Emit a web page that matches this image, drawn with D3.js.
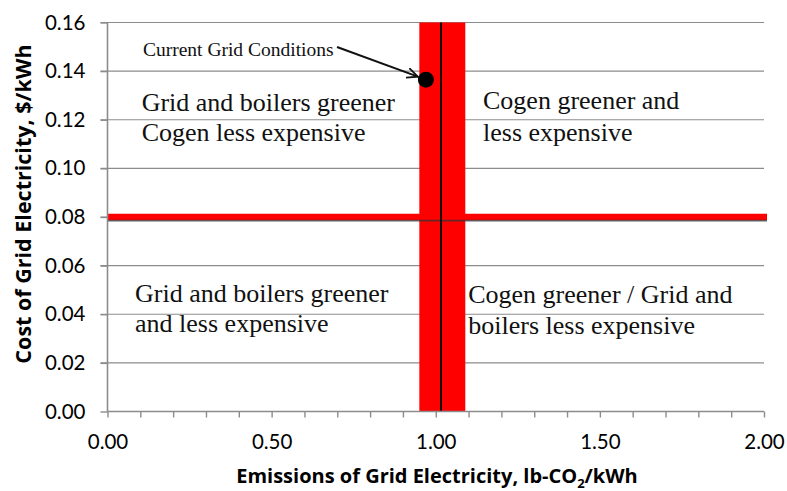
<!DOCTYPE html>
<html>
  <head>
    <meta charset="utf-8">
    <title>Cogen vs grid</title>
    <script src="https://cdnjs.cloudflare.com/ajax/libs/d3/7.8.5/d3.min.js"></script>
    <style>
      body { margin: 0; background: #fff; }
    </style>
  </head>
  <body>
    <script>
      // data
      var xTicks = [0, 0.5, 1.0, 1.5, 2.0];
      var xMinorTicks = d3.range(0, 2.0001, 0.1);
      var yTicks = [0, 0.02, 0.04, 0.06, 0.08, 0.10, 0.12, 0.14, 0.16];
      var emissionBand = [0.95, 1.09];      // red vertical band
      var emissionLine = [1.016];           // black vertical line
      var costLine = [0.08];                // red horizontal line
      var costRefLine = [0.0785];           // dark horizontal line
      var currentGrid = [{ x: 0.97, y: 0.1365 }];
      var quadrantLabels = [
        ["Grid and boilers greener", "Cogen less expensive"],
        ["Cogen greener and", "less expensive"],
        ["Grid and boilers greener", "and less expensive"],
        ["Cogen greener / Grid and", "boilers less expensive"]
      ];
      var calloutText = "Current Grid Conditions";

      var W = 787, H = 491;
      var m = { top: 22.5, right: 23, bottom: 79.5, left: 107.5 };

      var svg = d3.select("body").append("svg")
        .attr("width", W)
        .attr("height", H);

      var x = d3.scaleLinear().domain([0, 2]).range([m.left, W - m.right]);
      var y = d3.scaleLinear().domain([0, 0.16]).range([H - m.bottom, m.top]);

      // gridlines
      svg.append("g").selectAll("line").data(yTicks.slice(1)).enter().append("line")
        .attr("x1", x(0) - 7).attr("x2", x(2))
        .attr("y1", function (d){ return y(d); })
        .attr("y2", function (d){ return y(d); })
        .attr("stroke", "#8c8c8c").attr("stroke-width", 1.2);

      // red bands
      svg.append("rect")
        .attr("x", x(emissionBand[0]))
        .attr("y", y(0.16))
        .attr("width", x(emissionBand[1]) - x(emissionBand[0]))
        .attr("height", y(0) - y(0.16))
        .attr("fill", "#ff0000");

      svg.selectAll(".costline").data(costLine).enter().append("line")
        .attr("x1", x(0)).attr("x2", W - 20)
        .attr("y1", function (d){ return y(d); })
        .attr("y2", function (d){ return y(d); })
        .attr("stroke", "#ff0000").attr("stroke-width", 6.5);

      svg.selectAll(".costref").data(costRefLine).enter().append("line")
        .attr("x1", x(0)).attr("x2", W - 20)
        .attr("y1", function (d){ return y(d); })
        .attr("y2", function (d){ return y(d); })
        .attr("stroke", "#333").attr("stroke-opacity", 0.75).attr("stroke-width", 1.6);

      svg.selectAll(".emline").data(emissionLine).enter().append("line")
        .attr("x1", function (d){ return x(d); })
        .attr("x2", function (d){ return x(d); })
        .attr("y1", y(0.16)).attr("y2", y(0))
        .attr("stroke", "#111").attr("stroke-width", 2);

      // axes
      var yAxis = d3.axisLeft(y).tickValues(yTicks)
        .tickFormat(d3.format(".2f")).tickSize(7).tickPadding(15);
      var gy = svg.append("g").attr("transform", "translate(" + x(0) + ",0)").call(yAxis);

      var xAxis = d3.axisBottom(x).tickValues(xMinorTicks)
        .tickFormat(function (d){
          var hit = xTicks.some(function (t){ return Math.abs(t - d) < 1e-6; });
          return hit ? d3.format(".2f")(d) : "";
        }).tickSize(6).tickPadding(17);
      var gx = svg.append("g").attr("transform", "translate(0," + y(0) + ")").call(xAxis);

      [gx, gy].forEach(function (g){
        g.select(".domain").attr("stroke", "#8c8c8c").attr("stroke-width", 1.6);
        g.selectAll(".tick line").attr("stroke", "#8c8c8c").attr("stroke-width", 1.4);
        g.selectAll("text")
          .attr("font-family", "Lato, 'Open Sans', sans-serif")
          .attr("font-size", 20.5).attr("fill", "#000");
      });
      gx.select(".domain").attr("d", "M" + x(0) + ",0H" + x(2));
      gy.select(".domain").attr("d", "M0," + y(0) + "V" + y(0.16));

      // axis titles
      var xt = svg.append("text")
        .attr("x", 437)
        .attr("y", 483)
        .attr("text-anchor", "middle")
        .attr("font-family", "'Open Sans', sans-serif")
        .attr("font-weight", "bold")
        .attr("font-size", 20)
        .text("Emissions of Grid Electricity, lb-CO");
      xt.append("tspan").attr("font-size", 13).attr("dy", 5).text("2");
      xt.append("tspan").attr("dy", -5).text("/kWh");

      svg.append("text")
        .attr("transform", "translate(31,204) rotate(-90)")
        .attr("text-anchor", "middle")
        .attr("font-family", "'Open Sans', sans-serif")
        .attr("font-weight", "bold")
        .attr("font-size", 21.5)
        .text("Cost of Grid Electricity, $/kWh");

      // quadrant labels
      var labelPos = [
        { x: 0.104, y: [0.1236, 0.1113] },
        { x: 1.144, y: [0.1245, 0.1113] },
        { x: 0.084, y: [0.0452, 0.0328] },
        { x: 1.099, y: [0.0448, 0.0320] }
      ];
      quadrantLabels.forEach(function (lines, i){
        var t = svg.append("text")
          .attr("font-family", "'Liberation Serif', 'Times New Roman', serif")
          .attr("font-size", 26)
          .attr("fill", "#111");
        lines.forEach(function (s, j){
          t.append("tspan")
            .attr("x", x(labelPos[i].x))
            .attr("y", y(labelPos[i].y[j]))
            .text(s);
        });
      });

      // current grid callout
      svg.append("defs").append("marker")
        .attr("id", "arrow")
        .attr("viewBox", "0 0 12 12")
        .attr("refX", 11).attr("refY", 6)
        .attr("markerWidth", 12).attr("markerHeight", 12)
        .attr("markerUnits", "userSpaceOnUse")
        .attr("orient", "auto")
        .append("path")
        .attr("d", "M0,1 L11,6 L0,11")
        .attr("fill", "none").attr("stroke", "#111").attr("stroke-width", 1.8);

      svg.append("text")
        .attr("x", x(0.108))
        .attr("y", y(0.1462))
        .attr("font-family", "'Liberation Serif', 'Times New Roman', serif")
        .attr("font-size", 19.5)
        .attr("fill", "#111")
        .text(calloutText);

      svg.append("line")
        .attr("x1", 337).attr("y1", 47)
        .attr("x2", x(currentGrid[0].x) - 8).attr("y2", y(currentGrid[0].y) - 3)
        .attr("stroke", "#111").attr("stroke-width", 2)
        .attr("marker-end", "url(#arrow)");

      svg.selectAll(".pt").data(currentGrid).enter().append("circle")
        .attr("cx", function (d){ return x(d.x); })
        .attr("cy", function (d){ return y(d.y); })
        .attr("r", 8)
        .attr("fill", "#000");
    </script>
  </body>
</html>
